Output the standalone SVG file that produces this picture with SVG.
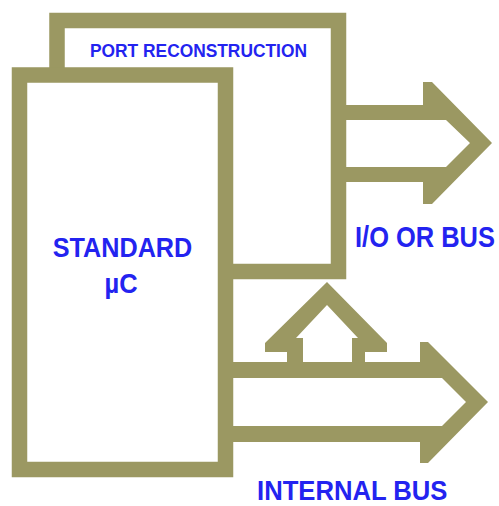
<svg xmlns="http://www.w3.org/2000/svg" width="499" height="506" viewBox="0 0 499 506">
<style>
.box{fill:#ffffff;stroke:#9b9862;stroke-width:15.5;stroke-linejoin:miter}
.arr{fill:#9b9862;stroke:none}
.lbl{font-family:"Liberation Sans",Arial,sans-serif;font-weight:bold;fill:#2323f0}
</style>
<rect width="499" height="506" fill="#ffffff"/>
<g id="port-reconstruction">
<rect class="box" x="57" y="20.5" width="281.5" height="251"/>
<text class="lbl" transform="translate(90,57) scale(0.914,1)" font-size="19">PORT RECONSTRUCTION</text>
</g>
<g id="standard-uc">
<rect class="box" x="19.5" y="75" width="206" height="394.5"/>
<text class="lbl" transform="translate(122.5,257) scale(0.9,1)" font-size="28" text-anchor="middle">STANDARD</text>
<text class="lbl" transform="translate(121,293) scale(0.91,1)" font-size="28" text-anchor="middle">µC</text>
</g>
<g id="connectors">
<path id="io-bus-arrow" class="arr" d="M340,105 H423 V82 H432 L492,143 L432,204 H423 V182 H340 V167 H446 L470,143 L446,120 H340 Z"/>
<path id="internal-bus-arrow" class="arr" d="M228,362 H420 V342 H428 L488,402 L428,463 H420 V442 H228 V426 H442 L466,402 L442,378 H228 Z"/>
<path id="port-feed-arrow" class="arr" d="M287,364 V352 H265 V343 L327,282 L387,343 V352 H365 V364 H352 V338 H358 L327,305 L296,338 H303 V364 Z"/>
</g>
<g id="label-io">
<text class="lbl" transform="translate(355,247) scale(0.848,1)" font-size="30">I/O OR BUS</text>
</g>
<g id="label-internal">
<text class="lbl" transform="translate(257,499.5) scale(0.9,1)" font-size="28.5">INTERNAL BUS</text>
</g>
</svg>
